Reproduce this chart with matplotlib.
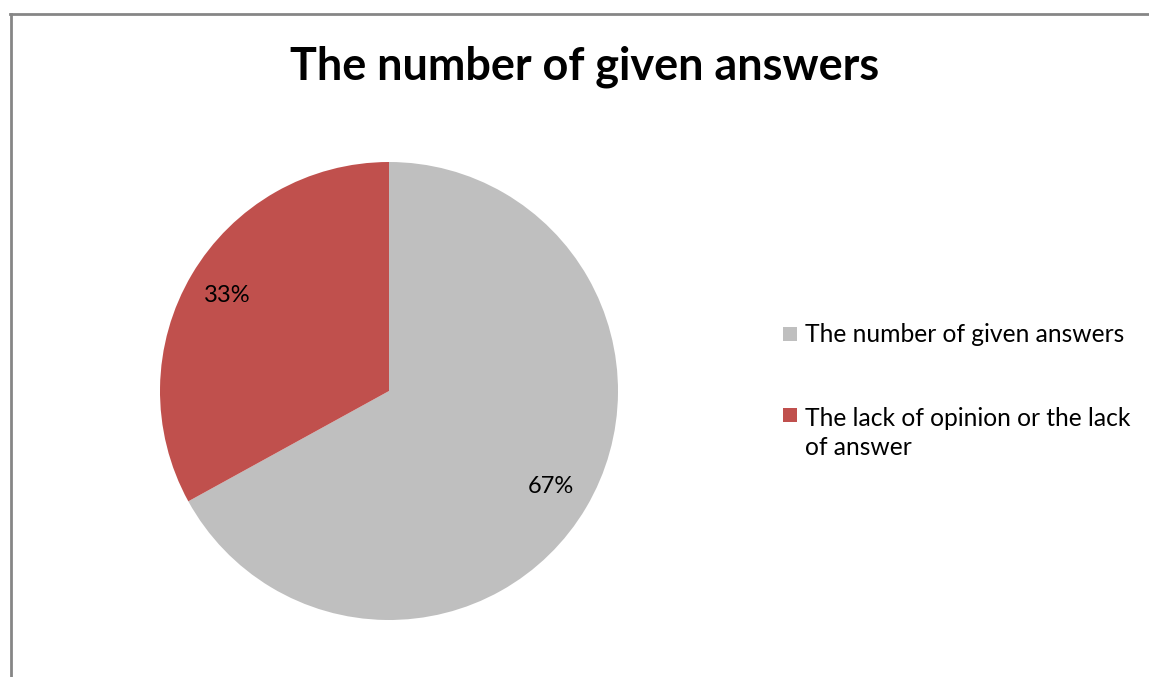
import matplotlib.pyplot as plt
from matplotlib.lines import Line2D
from matplotlib.patches import Rectangle

#------
#chart data
labels = ['The number of given answers', 'The lack of opinion or the lack\nof answer']
shares = [67, 33]
colors = ['#BFBFBF', '#C0504D']
title = 'The number of given answers'

plt.rcParams['font.family'] = ['Lato', 'DejaVu Sans']

W, H = 1149, 677
fig = plt.figure(figsize=(W / 100, H / 100), dpi=100)

#pie area, square in pixels
cx, cy, r = 389, 391, 229
ax = fig.add_axes([(cx - r) / W, (H - cy - r) / H, 2 * r / W, 2 * r / H])
wedges, texts, autotexts = ax.pie(shares, colors=colors, startangle=90, counterclock=False,
                                  autopct='%1.0f%%', pctdistance=0.82, radius=1,
                                  textprops={'fontsize': 17, 'color': 'black'})
ax.set_xlim(-1, 1)
ax.set_ylim(-1, 1)

fig.text(584.5 / W, 1 - 80 / H, title, ha='center', va='baseline', fontsize=32.4, fontweight='bold')

#legend: square key aligned with the first line of each label
leg_fs = 17.7
leg_ls = 1.32
pitch = leg_ls * leg_fs * 100 / 72
key_y = [327, 408]
for lab, col, y in zip(labels, colors, key_y):
    fig.add_artist(Rectangle((783 / W, 1 - (y + 14) / H), 14 / W, 14 / H,
                             transform=fig.transFigure, facecolor=col, edgecolor='none'))
    # multi-line text is anchored on the baseline of its last line
    base = y + 15 + lab.count('\n') * pitch
    fig.text(805 / W, 1 - base / H, lab, ha='left', va='baseline',
             fontsize=leg_fs, linespacing=leg_ls)

#outer frame (only left and top edges visible)
fig.add_artist(Line2D([10.5 / W, 10.5 / W], [0, 1 - 13.5 / H], color='#868686', lw=2))
fig.add_artist(Line2D([10 / W, 1], [1 - 13.5 / H, 1 - 13.5 / H], color='#868686', lw=2))

fig.savefig('out.png', dpi=100)
